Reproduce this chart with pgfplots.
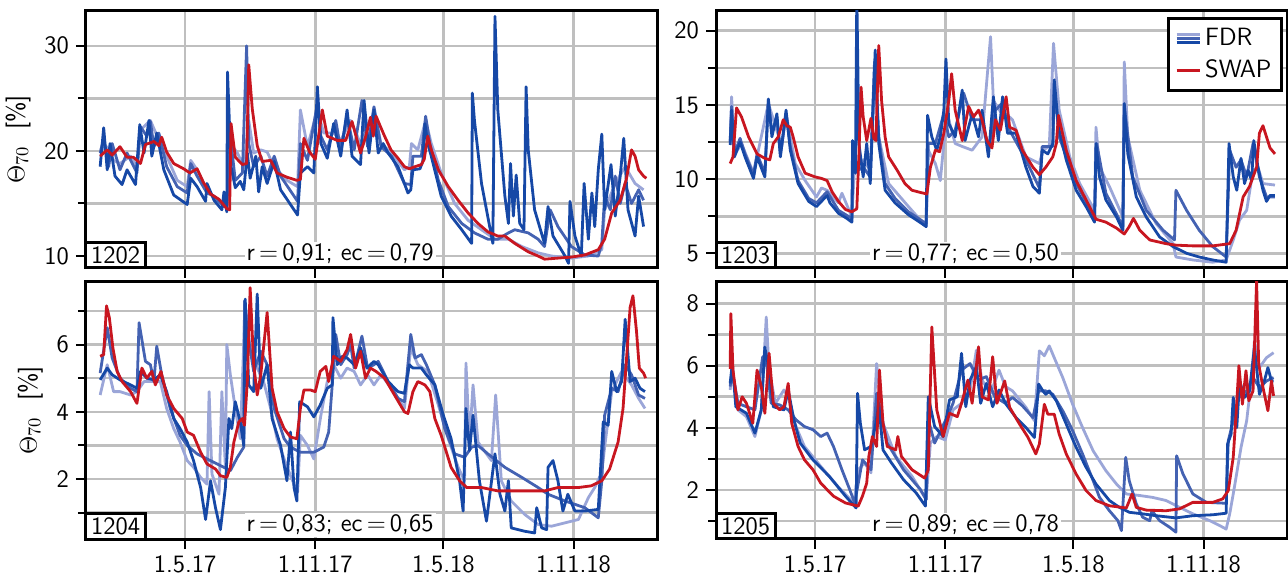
\documentclass[border=0pt]{standalone}
\usepackage{pgfplots}
\pgfplotsset{compat=1.18}
\definecolor{fdrL}{RGB}{155,166,216}
\definecolor{fdrM}{RGB}{68,98,178}
\definecolor{fdrD}{RGB}{22,72,166}
\definecolor{swapred}{RGB}{200,22,32}
\newcommand{\panelfont}{\fontsize{12.5}{14}\selectfont\sffamily}
\tikzset{
  idbox/.style={draw, line width=1.5pt, fill=white, inner xsep=2.6pt, inner ysep=2pt, outer sep=0pt, anchor=south west, font=\panelfont},
  stat/.style={fill=white, inner sep=1pt, font=\panelfont},
}
\pgfplotsset{
  panel/.style={
    scale only axis, width=285.5pt, height=128.7pt,
    xmin=-20, xmax=787,
    xtick={120,304,485,669},
    axis line style={line width=1.5pt},
    grid=both,
    major grid style={gray!50, line width=1.3pt},
    minor grid style={gray!50, line width=1.3pt},
    tick style={black, line width=1pt},
    major tick length=5pt, minor tick length=4pt,
    tick align=outside, tick pos=left,
    ticklabel style={font=\panelfont},
    label style={font=\panelfont},
    /pgf/number format/assume math mode=true,
    clip mode=individual,
    every axis plot/.append style={line width=1.4pt, line join=round, no markers},
  },
  Lst/.style={color=fdrL, forget plot},
  Mst/.style={color=fdrM, forget plot},
  Dst/.style={color=fdrD, forget plot},
  Rst/.style={color=swapred, forget plot},
}
\begin{document}
\begin{tikzpicture}
\path[use as bounding box] (0,0) rectangle (644pt,288.5pt);

% ---------------- 1202 (top left)
\begin{axis}[panel, at={(43pt,154.5pt)}, anchor=south west,
  ymin=8.86, ymax=33.35, ytick={10,20,30}, minor ytick={15,25},
  xticklabels={,,,}, ylabel={$\Theta_{70}$\ \ [\%]}]
\addplot[Lst] coordinates {(0,20.1)(10,20.4)(19,19.1)(28,18.8)(43,19.5)(52,18.5)(57,22.0)(71,22.9)(85,20.7)(94,19.5)(109,17.2)(123,16.6)(128,19.1)(137,18.2)(151,16.3)(170,15.0)(179,15.0)(184,20.7)(194,19.8)(203,18.5)(210,22.9)(217,19.8)(227,20.1)(236,19.9)(246,18.5)(264,17.2)(279,16.6)(283,23.9)(293,20.4)(307,23.9)(316,21.7)(330,21.7)(340,21.0)(354,22.9)(368,20.7)(382,22.9)(392,22.3)(397,20.7)(412,19.8)(430,18.2)(437,18.5)(440,20.7)(449,20.1)(460,22.9)(468,20.7)(482,17.9)(501,15.0)(520,13.4)(539,12.5)(558,11.6)(577,11.6)(596,10.9)(619,10.3)(638,10.0)(666,9.8)(690,10.0)(709,10.6)(713,14.4)(728,16.9)(742,18.5)(756,16.9)(768,16.3)};
\addplot[Mst] coordinates {(0,19.8)(5,21.2)(12,18.5)(17,20.7)(28,18.2)(38,19.8)(52,17.9)(57,22.3)(66,21.4)(71,22.8)(76,20.4)(83,21.7)(94,18.5)(109,16.6)(123,16.0)(128,18.8)(137,17.6)(151,16.0)(161,15.7)(175,14.7)(179,14.7)(184,21.4)(191,17.2)(201,17.9)(207,30.0)(210,20.7)(217,18.5)(227,19.5)(236,17.6)(246,19.5)(255,17.6)(279,15.2)(283,20.7)(293,19.1)(307,24.5)(312,21.4)(321,20.1)(333,22.9)(340,20.1)(349,23.3)(359,20.1)(370,24.8)(378,20.4)(387,24.2)(397,20.4)(412,19.5)(430,16.9)(439,16.8)(442,19.5)(454,19.5)(460,23.3)(466,20.7)(478,17.2)(492,14.7)(511,13.1)(529,12.2)(548,11.6)(562,11.6)(577,12.2)(586,12.5)(605,12.2)(619,11.6)(628,10.9)(636,14.4)(647,12.8)(666,10.9)(685,10.1)(704,10.0)(709,11.2)(713,15.7)(721,14.4)(728,17.6)(735,15.0)(742,16.9)(751,15.0)(761,16.3)(768,15.3)};
\addplot[Dst] coordinates {(0,18.5)(5,22.2)(10,18.2)(14,20.7)(21,17.6)(31,16.8)(38,18.2)(50,16.8)(56,22.5)(62,19.8)(69,22.9)(73,19.5)(80,21.7)(90,18.2)(104,15.8)(123,14.9)(128,17.4)(137,16.6)(149,15.2)(151,16.9)(161,15.3)(172,14.4)(175,16.1)(179,14.2)(180,27.5)(185,18.5)(191,16.5)(198,17.1)(203,16.3)(208,19.8)(212,17.4)(220,19.5)(224,16.1)(229,18.5)(236,16.9)(246,19.0)(255,16.3)(279,13.9)(283,17.9)(293,18.5)(302,17.9)(307,26.1)(312,20.7)(321,19.3)(330,22.6)(340,19.5)(349,23.9)(356,19.5)(368,18.7)(373,24.8)(380,19.8)(387,23.9)(393,19.8)(400,20.7)(407,19.8)(421,18.5)(435,16.0)(439,16.3)(442,18.2)(452,18.3)(456,19.0)(459,22.6)(463,20.7)(468,19.5)(482,15.7)(496,13.8)(511,12.5)(525,11.2)(526,25.5)(529,22.9)(539,16.9)(555,11.2)(558,32.8)(562,23.9)(572,15.7)(577,13.1)(580,18.8)(584,13.8)(588,17.7)(593,13.1)(599,12.5)(602,26.1)(605,20.1)(614,14.4)(628,11.2)(633,14.7)(640,11.9)(657,10.0)(662,9.3)(664,15.2)(671,11.9)(680,10.0)(684,16.9)(690,11.6)(695,16.0)(699,12.8)(704,18.2)(709,21.6)(713,14.4)(722,18.7)(728,13.8)(735,17.6)(740,21.2)(746,14.4)(756,11.9)(761,15.7)(768,12.8)};
\addplot[Rst] coordinates {(0,19.5)(10,20.1)(17,19.6)(28,20.4)(38,19.4)(47,19.4)(57,18.8)(64,20.6)(76,20.9)(83,20.5)(87,21.3)(94,19.9)(104,18.8)(118,18.3)(127,17.9)(137,18.3)(146,17.0)(156,15.9)(168,15.4)(179,14.5)(183,14.4)(185,22.6)(191,19.4)(201,18.7)(207,18.8)(210,28.2)(215,24.0)(222,20.5)(229,19.0)(241,19.1)(250,17.9)(264,17.5)(278,17.2)(283,17.3)(288,21.2)(296,19.9)(304,19.2)(314,23.9)(321,21.4)(335,21.0)(347,21.0)(356,22.8)(368,19.8)(375,21.3)(382,23.2)(386,21.4)(390,23.3)(395,22.5)(402,21.4)(411,20.1)(421,19.3)(430,18.5)(437,18.3)(445,18.5)(454,18.7)(458,19.2)(463,21.4)(468,20.1)(478,18.2)(492,16.6)(506,15.3)(520,14.1)(534,13.1)(548,12.3)(562,11.9)(572,11.9)(586,11.2)(605,10.4)(619,10.0)(628,9.7)(647,9.8)(666,9.9)(685,10.1)(704,10.6)(713,11.6)(723,14.1)(735,15.3)(744,17.4)(751,20.1)(756,19.5)(761,18.2)(768,17.6)(772,17.4)};
\node[idbox] at (rel axis cs:0,0) {1202};
\node[stat] at (rel axis cs:0.445,0.054) {r\,=\,0,91;\ ec\,=\,0,79};
\end{axis}

% ---------------- 1203 (top right)
\begin{axis}[panel, at={(358pt,154.5pt)}, anchor=south west,
  ymin=4.01, ymax=21.36, ytick={5,10,15,20}, minor ytick={7.5,12.5,17.5},
  xticklabels={,,,},
  legend style={at={(rel axis cs:0.993,0.975)}, anchor=north east, draw=black, line width=1.5pt, fill=white, font=\panelfont, inner sep=3pt, row sep=1.5pt, cells={anchor=west}}]
\addplot[Lst] coordinates {(0,12.4)(2,15.55)(7,11.7)(16,12.4)(33,10.4)(54,15.1)(73,12.2)(79,14.4)(92,11.05)(106,9.9)(122,8.8)(129,9.4)(137,9.25)(153,8.4)(158,9.05)(172,7.45)(176,11.05)(181,10.8)(188,11.3)(198,10.6)(205,17.1)(210,12.85)(224,9.7)(252,8.15)(277,6.8)(280,11.95)(290,11.05)(297,9.9)(302,12.4)(309,14.0)(318,12.4)(328,12.2)(342,11.95)(356,12.85)(368,19.6)(372,15.3)(384,14.4)(390,14.4)(399,14.0)(418,11.5)(437,11.05)(442,11.95)(451,12.2)(457,19.15)(465,14.65)(480,11.5)(494,9.7)(515,7.9)(517,13.5)(522,10.8)(536,9.5)(555,7.45)(557,17.9)(562,12.85)(579,9.25)(602,7.0)(626,5.65)(630,4.75)(654,4.55)(682,4.4)(701,4.55)(711,5.9)(720,7.25)(730,7.9)(739,10.6)(746,10.8)(753,9.7)(770,9.6)};
\addplot[Mst] coordinates {(0,12.5)(2,14.9)(6,11.7)(14,12.75)(21,11.7)(33,10.3)(38,11.7)(49,10.4)(54,15.3)(59,13.1)(66,14.2)(71,11.7)(79,14.4)(85,12.2)(96,9.9)(111,8.7)(122,8.4)(137,9.15)(153,7.9)(172,7.35)(174,11.95)(181,10.6)(188,10.8)(198,10.15)(204,17.9)(210,12.85)(219,9.7)(233,8.7)(252,7.8)(277,7.0)(280,12.4)(290,12.4)(302,14.4)(309,12.85)(318,13.3)(330,15.8)(342,14.0)(356,14.0)(365,11.95)(375,14.65)(384,15.1)(395,13.3)(418,11.3)(437,9.4)(441,12.2)(456,12.2)(458,16.2)(465,12.85)(489,9.7)(515,7.45)(518,12.4)(531,9.05)(555,6.8)(557,14.9)(569,10.15)(588,7.9)(612,6.55)(628,5.9)(630,9.25)(645,7.9)(663,6.55)(682,5.45)(701,4.75)(706,11.95)(715,10.8)(722,11.3)(730,10.15)(739,12.4)(748,10.15)(758,8.8)(770,8.8)};
\addplot[Dst] coordinates {(0,12.3)(2,14.65)(6,11.5)(14,12.5)(21,11.5)(33,10.05)(38,11.5)(49,10.15)(54,15.4)(59,12.85)(66,14.4)(71,11.5)(79,14.65)(85,11.95)(96,9.7)(111,8.5)(122,8.15)(129,8.5)(137,8.9)(141,8.4)(153,7.7)(165,7.35)(172,7.1)(173,12.6)(177,10.4)(179,22.5)(182,12.4)(188,10.15)(193,12.4)(198,9.7)(205,18.7)(210,12.4)(219,9.25)(233,8.4)(252,7.6)(271,7.0)(277,6.8)(279,14.3)(285,12.85)(292,11.95)(297,12.85)(302,14.65)(305,18.1)(309,13.75)(318,12.85)(328,16.0)(332,12.6)(342,14.4)(351,12.85)(356,14.65)(365,11.5)(372,15.55)(379,12.6)(385,15.55)(392,13.1)(404,13.1)(418,10.8)(428,9.5)(437,9.05)(441,11.95)(449,11.7)(456,12.4)(458,16.7)(464,13.5)(475,11.3)(489,9.25)(503,8.15)(515,7.1)(517,12.4)(522,10.15)(531,8.6)(546,7.45)(555,6.55)(557,15.1)(562,11.7)(574,8.8)(588,7.45)(607,6.1)(626,5.45)(645,5.0)(663,4.75)(682,4.55)(701,4.4)(705,12.4)(711,10.15)(716,9.25)(722,11.4)(727,9.7)(732,10.6)(737,9.9)(740,12.6)(746,10.8)(753,9.25)(758,8.5)(763,8.9)(770,8.9)};
\addplot[Rst] coordinates {(0,11.05)(4,11.5)(9,14.8)(16,14.2)(26,12.85)(38,11.7)(49,11.4)(56,11.3)(61,12.4)(68,12.85)(75,14.0)(80,13.6)(85,13.5)(89,12.85)(96,11.5)(106,10.4)(120,10.15)(129,10.05)(137,9.9)(144,9.15)(153,8.5)(163,7.95)(172,7.8)(179,8.0)(182,11.7)(185,16.2)(188,14.2)(193,12.6)(199,14.1)(203,12.75)(206,12.6)(210,19.0)(214,15.3)(219,12.85)(224,11.5)(236,10.6)(247,9.7)(257,9.25)(269,9.1)(278,9.0)(283,10.8)(290,11.95)(296,11.85)(302,13.1)(309,15.3)(313,17.1)(318,14.65)(328,12.6)(337,14.9)(344,14.2)(351,14.65)(356,14.0)(363,12.6)(370,12.1)(375,14.0)(382,13.3)(390,15.55)(395,13.5)(404,13.3)(413,11.95)(428,10.8)(437,10.3)(446,10.8)(456,11.5)(461,12.4)(464,14.3)(475,11.95)(489,9.9)(503,8.6)(517,7.3)(531,7.1)(546,6.7)(557,6.3)(564,6.8)(570,7.35)(579,6.55)(593,5.9)(616,5.65)(630,5.55)(654,5.5)(682,5.5)(706,5.65)(715,6.55)(725,8.8)(734,9.5)(744,10.8)(748,13.1)(753,13.6)(758,12.85)(763,12.1)(770,11.7)};
\addlegendimage{legend image code/.code={
  \draw[fdrL, line width=1.5pt] (0pt,2.1pt) -- (11.5pt,2.1pt);
  \draw[fdrM, line width=1.5pt] (0pt,0pt) -- (11.5pt,0pt);
  \draw[fdrD, line width=1.5pt] (0pt,-2.1pt) -- (11.5pt,-2.1pt);}}
\addlegendentry{FDR}
\addlegendimage{legend image code/.code={\draw[swapred, line width=1.7pt] (0pt,0pt) -- (11.5pt,0pt);}}
\addlegendentry{SWAP}
\node[idbox] at (rel axis cs:0,0) {1203};
\node[stat] at (rel axis cs:0.437,0.054) {r\,=\,0,77;\ ec\,=\,0,50};
\end{axis}

% ---------------- 1204 (bottom left)
\begin{axis}[panel, at={(43pt,19pt)}, anchor=south west,
  ymin=0.22, ymax=7.87, ytick={2,4,6}, minor ytick={1,3,5,7},
  xticklabels={1.5.17,1.11.17,1.5.18,1.11.18}, ylabel={$\Theta_{70}$\ \ [\%]}]
\addplot[Lst] coordinates {(0,4.5)(10,5.4)(19,4.6)(28,4.6)(43,4.5)(52,4.6)(62,4.9)(76,4.9)(85,4.9)(94,4.1)(104,3.5)(113,3.1)(123,2.55)(132,2.35)(142,2.05)(151,1.85)(154,4.6)(158,2.15)(168,1.55)(172,4.6)(177,2.35)(179,6.0)(184,5.1)(191,4.1)(198,3.2)(205,7.2)(212,5.9)(222,5.3)(231,4.9)(241,4.1)(250,3.2)(260,2.6)(269,2.1)(279,1.6)(283,3.3)(293,3.0)(302,2.6)(312,3.9)(321,4.9)(330,5.4)(340,5.0)(349,5.3)(359,5.2)(368,4.8)(378,5.1)(387,4.8)(397,5.1)(412,4.7)(430,4.1)(439,5.9)(449,5.4)(463,5.2)(478,4.2)(492,3.2)(506,2.35)(515,1.95)(517,5.45)(522,3.1)(527,4.8)(534,3.1)(553,2.55)(559,4.5)(567,1.95)(581,1.35)(600,0.95)(619,0.65)(638,0.6)(657,0.7)(676,0.8)(690,1.45)(699,1.75)(709,2.2)(713,2.95)(723,4.6)(737,5.2)(751,4.8)(761,4.4)(770,4.1)};
\addplot[Mst] coordinates {(0,5.15)(10,6.5)(17,5.6)(28,5.0)(43,4.7)(52,4.6)(55,6.65)(64,5.5)(71,5.4)(76,4.9)(80,5.95)(87,5.1)(99,4.1)(113,3.3)(123,3.0)(137,2.75)(156,2.55)(175,2.35)(184,2.25)(194,2.65)(203,2.95)(204,7.3)(208,6.4)(217,5.2)(227,5.8)(236,5.4)(246,4.1)(260,3.2)(269,2.95)(283,2.8)(302,2.8)(316,2.95)(323,3.4)(328,4.8)(333,6.3)(340,5.4)(349,5.7)(354,6.0)(359,5.3)(370,6.25)(378,5.3)(387,5.4)(393,5.5)(407,4.9)(421,4.4)(430,4.3)(439,6.3)(445,5.6)(454,5.7)(461,5.4)(473,4.8)(487,3.5)(501,2.75)(515,2.65)(525,2.95)(534,3.0)(548,2.75)(572,2.35)(596,2.05)(619,1.75)(633,1.55)(657,1.35)(685,1.15)(704,0.85)(709,1.95)(713,3.9)(723,4.7)(732,4.6)(742,5.4)(751,5.1)(761,4.5)(770,4.4)};
\addplot[Dst] coordinates {(0,4.95)(10,5.3)(17,5.1)(28,4.95)(43,4.8)(52,4.7)(57,5.2)(66,5.0)(76,4.95)(85,5.1)(94,4.6)(104,3.8)(113,3.5)(123,3.1)(132,2.55)(142,1.75)(149,0.8)(156,1.95)(163,1.15)(170,0.5)(177,1.75)(182,3.8)(186,3.5)(191,4.3)(198,3.7)(203,3.0)(205,7.35)(210,4.8)(217,4.6)(222,7.5)(227,4.7)(236,5.4)(243,3.8)(255,3.0)(264,1.95)(269,3.4)(274,1.75)(278,1.35)(282,4.3)(293,4.15)(302,3.85)(311,4.2)(321,4.7)(328,4.8)(329,6.8)(335,5.4)(342,5.65)(349,5.6)(359,5.4)(368,5.9)(377,5.3)(387,5.5)(393,5.4)(407,4.9)(421,4.6)(430,4.55)(437,5.4)(442,5.3)(454,5.3)(461,5.1)(473,4.8)(485,3.9)(496,3.2)(508,1.95)(513,1.05)(517,4.1)(522,2.85)(527,3.9)(536,1.95)(546,0.75)(558,2.75)(565,1.55)(572,1.05)(577,1.95)(581,0.55)(600,0.45)(614,0.4)(617,1.15)(624,0.55)(631,0.5)(633,2.35)(640,2.55)(647,1.95)(654,1.05)(661,1.55)(671,1.05)(685,1.05)(704,1.1)(711,3.7)(718,3.6)(723,5.2)(730,4.6)(737,4.9)(742,6.75)(749,4.9)(756,5.0)(763,4.7)(770,4.6)};
\addplot[Rst] coordinates {(0,5.65)(5,5.7)(9,7.15)(13,6.8)(18,5.9)(24,5.2)(31,4.9)(43,4.6)(52,4.25)(59,5.3)(66,5.0)(73,5.2)(78,4.8)(86,5.2)(94,4.5)(104,4.1)(116,3.8)(123,3.4)(132,3.3)(142,2.8)(151,2.45)(163,2.3)(170,2.1)(179,2.05)(184,2.35)(189,3.1)(196,3.7)(201,3.8)(204,3.6)(208,4.9)(212,7.69)(217,5.4)(222,4.5)(227,5.1)(236,6.95)(243,4.7)(250,4.0)(260,3.5)(269,3.25)(278,3.2)(283,4.1)(288,4.65)(297,4.65)(304,4.6)(311,5.2)(319,5.35)(323,4.9)(330,5.65)(340,5.5)(349,5.85)(354,6.3)(361,5.3)(368,5.8)(375,5.0)(382,5.3)(390,5.2)(402,5.0)(416,4.5)(430,4.0)(435,3.95)(442,4.6)(449,4.9)(459,4.8)(466,4.6)(473,3.8)(482,3.3)(496,2.35)(508,1.95)(518,1.75)(539,1.75)(562,1.65)(596,1.65)(628,1.65)(647,1.75)(676,1.75)(694,1.8)(709,1.95)(720,2.3)(732,3.1)(739,4.1)(744,5.6)(749,7.1)(753,7.45)(758,6.4)(762,5.3)(768,5.15)(771,5.0)};
\node[idbox] at (rel axis cs:0,0) {1204};
\node[stat] at (rel axis cs:0.445,0.054) {r\,=\,0,83;\ ec\,=\,0,65};
\end{axis}

% ---------------- 1205 (bottom right)
\begin{axis}[panel, at={(358pt,19pt)}, anchor=south west,
  ymin=0.42, ymax=8.71, ytick={2,4,6,8}, minor ytick={1,3,5,7},
  xticklabels={1.5.17,1.11.17,1.5.18,1.11.18}]
\addplot[Lst] coordinates {(0,5.22)(3,5.86)(11,4.58)(23,4.36)(35,3.72)(44,4.58)(51,7.57)(55,5.86)(64,4.79)(76,5.22)(82,5.0)(93,4.04)(105,3.4)(128,2.76)(152,2.12)(175,1.58)(181,2.65)(190,2.87)(199,2.55)(207,6.07)(216,4.15)(234,3.08)(257,2.44)(277,1.69)(283,3.51)(292,3.72)(304,3.61)(315,4.58)(327,4.79)(339,5.22)(348,6.5)(356,5.54)(368,5.11)(380,5.86)(389,5.33)(399,5.19)(418,4.66)(430,4.23)(437,6.48)(444,6.32)(451,6.64)(458,6.26)(470,5.62)(484,4.76)(498,4.01)(513,3.26)(531,2.62)(546,2.19)(560,1.87)(579,1.82)(597,1.76)(616,1.66)(635,1.44)(654,1.23)(678,1.01)(692,0.85)(701,0.74)(706,1.23)(711,1.87)(715,2.41)(722,3.37)(730,4.23)(737,5.62)(741,6.8)(748,5.94)(758,6.26)(768,6.42)};
\addplot[Mst] coordinates {(0,5.33)(3,5.86)(11,4.79)(23,4.68)(35,4.58)(46,6.29)(52,5.97)(58,4.79)(70,4.74)(82,4.58)(93,4.26)(105,4.04)(117,3.94)(128,3.72)(137,3.83)(146,3.4)(158,2.65)(169,2.01)(176,1.58)(187,2.97)(199,2.65)(207,5.11)(222,3.51)(245,2.65)(269,2.01)(277,1.69)(280,4.26)(289,3.51)(298,3.94)(307,4.36)(315,4.79)(327,5.86)(339,6.07)(351,5.54)(362,5.65)(374,5.0)(389,4.79)(399,4.98)(413,4.71)(428,4.33)(436,5.19)(446,5.19)(456,5.08)(470,4.55)(484,3.91)(498,3.16)(513,2.3)(522,1.76)(536,1.33)(548,1.01)(553,0.69)(559,3.05)(564,2.3)(574,1.55)(583,1.12)(593,1.01)(596,1.33)(607,1.01)(621,0.8)(630,0.64)(631,3.1)(640,2.51)(654,1.87)(673,1.6)(701,1.57)(704,3.58)(711,4.23)(719,4.98)(730,5.19)(739,5.62)(748,5.3)(758,5.51)(768,5.62)};
\addplot[Dst] coordinates {(0,5.43)(3,6.07)(8,4.68)(23,4.47)(35,3.83)(44,4.58)(49,6.6)(55,5.86)(61,4.68)(76,4.58)(82,5.22)(90,4.26)(99,3.51)(117,2.97)(140,2.44)(163,1.8)(178,1.42)(180,5.11)(184,4.15)(190,3.29)(199,3.4)(206,4.15)(210,4.79)(216,3.29)(228,2.87)(245,2.33)(263,1.9)(276,1.48)(280,5.0)(289,4.04)(301,3.72)(310,4.9)(321,5.0)(327,6.4)(333,4.68)(339,5.54)(348,5.97)(354,4.79)(362,5.43)(371,4.68)(380,5.22)(390,4.76)(404,4.33)(418,4.01)(430,3.69)(436,5.41)(442,5.19)(446,5.08)(451,5.19)(461,4.87)(475,4.12)(489,3.37)(503,2.73)(517,2.19)(536,1.66)(550,1.44)(564,1.28)(583,1.23)(602,1.17)(630,1.1)(654,1.17)(682,1.2)(701,1.25)(703,3.48)(708,3.8)(711,4.98)(716,4.01)(720,5.51)(727,4.98)(734,5.19)(741,6.59)(748,5.08)(755,5.51)(760,5.94)(765,5.51)(768,5.51)};
\addplot[Rst] coordinates {(0,5.9)(1,7.68)(4,5.86)(11,4.58)(17,5.0)(23,4.79)(32,4.15)(38,5.86)(44,5.33)(49,4.47)(55,6.4)(61,4.79)(70,4.58)(76,4.68)(82,5.43)(87,4.15)(96,3.4)(105,2.97)(117,2.65)(128,2.22)(146,1.8)(163,1.58)(181,1.48)(187,1.8)(193,2.22)(196,3.08)(201,3.72)(207,3.4)(211,5.86)(216,4.15)(222,3.4)(234,3.29)(237,3.72)(242,3.08)(257,2.65)(275,2.38)(280,2.65)(285,7.25)(292,4.58)(301,3.72)(310,4.47)(321,4.36)(327,4.79)(336,5.54)(342,4.79)(351,6.61)(356,5.0)(365,4.9)(371,6.29)(377,4.79)(388,5.51)(395,4.66)(409,4.12)(421,3.69)(432,3.16)(437,3.48)(444,4.76)(449,4.44)(458,4.44)(465,3.8)(475,3.16)(489,2.51)(503,1.98)(517,1.66)(536,1.49)(560,1.42)(568,1.87)(574,1.44)(588,1.35)(616,1.33)(635,1.39)(654,1.6)(682,1.6)(696,1.71)(704,1.98)(711,3.05)(715,4.44)(719,6.0)(724,4.76)(729,5.84)(733,4.87)(739,5.19)(744,8.73)(747,6.05)(753,5.3)(760,4.55)(765,5.51)(768,5.03)};
\node[idbox] at (rel axis cs:0,0) {1205};
\node[stat] at (rel axis cs:0.437,0.054) {r\,=\,0,89;\ ec\,=\,0,78};
\end{axis}
\end{tikzpicture}
\end{document}
